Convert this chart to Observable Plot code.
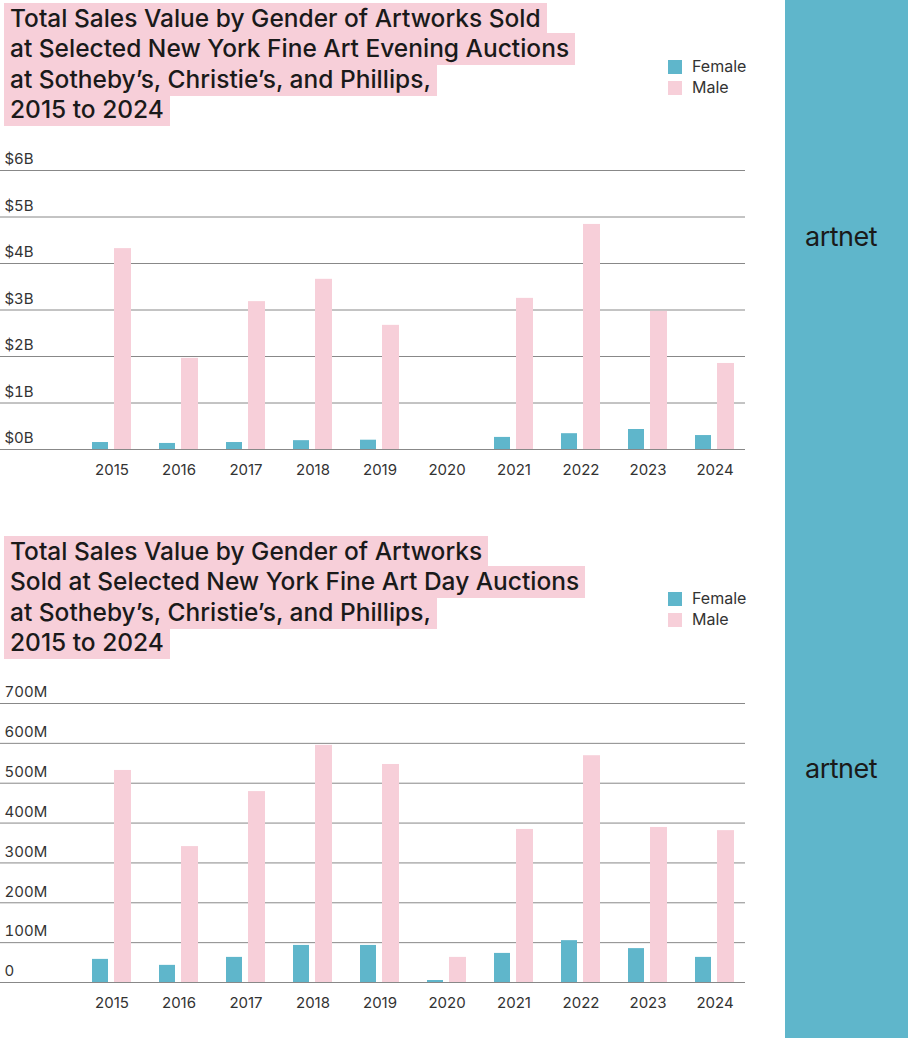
<!DOCTYPE html>
<html><head><meta charset="utf-8">
<script src="https://cdn.jsdelivr.net/npm/d3@7"></script>
<script src="https://cdn.jsdelivr.net/npm/@observablehq/plot@0.6"></script>
<style>
body{margin:0;width:908px;height:1038px;position:relative;background:#fff;font-family:Inter,"Liberation Sans",sans-serif;overflow:hidden}
.side{position:absolute;left:785px;top:0;width:123px;height:1038px;background:#5fb6cb}
.brand{position:absolute;left:805px;font-size:27px;color:#1a1a1a;letter-spacing:-0.5px}
.title{position:absolute;left:4px;font-size:24.5px;font-weight:500;line-height:30.3px;color:#1a1a1a;width:680px}
.title span{background:#f7cfd9;padding:0 6px 2px 6px;box-decoration-break:clone;-webkit-box-decoration-break:clone}
.legend{position:absolute;left:668px;font-size:16px;color:#333;line-height:21px}
.legend div{display:flex;align-items:center}
.legend i{display:inline-block;width:14px;height:14px;margin-right:10px}
.chart{position:absolute;left:0}
</style></head><body>
<div class="side"></div>
<div class="brand" style="top:220px">artnet</div>
<div class="brand" style="top:752px">artnet</div>
<div class="title" style="top:3px"><span>Total Sales Value by Gender of Artworks Sold<br>at Selected New York Fine Art Evening Auctions<br>at Sotheby’s, Christie’s, and Phillips,<br>2015 to 2024</span></div>
<div class="title" style="top:536px"><span>Total Sales Value by Gender of Artworks<br>Sold at Selected New York Fine Art Day Auctions<br>at Sotheby’s, Christie’s, and Phillips,<br>2015 to 2024</span></div>
<div class="legend" style="top:56px"><div><i style="background:#5fb6cb"></i>Female</div><div><i style="background:#f7cfd9"></i>Male</div></div>
<div class="legend" style="top:588px"><div><i style="background:#5fb6cb"></i>Female</div><div><i style="background:#f7cfd9"></i>Male</div></div>
<div class="chart" id="c1" style="top:140px"></div>
<div class="chart" id="c2" style="top:675px"></div>
<script>
const years = ["2015","2016","2017","2018","2019","2020","2021","2022","2023","2024"];
const eveningFemale = [0.15,0.13,0.15,0.19,0.20,0,0.26,0.34,0.43,0.30];
const eveningMale = [4.32,1.96,3.18,3.66,2.67,0,3.25,4.84,2.97,1.85];
const dayFemale = [58,43,63,93,93,5,73,105,85,63];
const dayMale = [532,341,479,595,547,63,384,569,389,381];
const eveningTicks = [0,1,2,3,4,5,6];
const eveningTickLabels = ["$0B","$1B","$2B","$3B","$4B","$5B","$6B"];
const dayTicks = [0,100,200,300,400,500,600,700];
const dayTickLabels = ["0","100M","200M","300M","400M","500M","600M","700M"];

function chart(female, male, ticks, labels, mt, mb) {
  const fd = years.map((y,i)=>({year:y, v:female[i]}));
  const md = years.map((y,i)=>({year:y, v:male[i]}));
  return Plot.plot({
    width:785, height:350, marginLeft:0, marginRight:40, marginTop:mt, marginBottom:mb,
    style:{fontFamily:"Inter, 'Liberation Sans', sans-serif", fontSize:"15px", color:"#333"},
    x:{domain:years, range:[74,752], padding:0, label:null},
    y:{domain:[0, ticks[ticks.length-1]], label:null},
    marks:[
      Plot.gridY({ticks, stroke:"#555", strokeOpacity:0.7}),
      Plot.axisY({ticks, tickFormat:(d,i)=>labels[ticks.indexOf(d)], tickSize:0, tickPadding:0, textAnchor:"start", dx:4, dy:-11, label:null, fill:"#333"}),
      Plot.axisX({tickSize:0, tickPadding:15, label:null, fill:"#333"}),
      Plot.barY(fd, {x:"year", y:"v", fill:"#5fb6cb", insetLeft:14, insetRight:37}),
      Plot.barY(md, {x:"year", y:"v", fill:"#f7cfd9", insetLeft:36, insetRight:14})
    ]
  });
}
document.getElementById("c1").append(chart(eveningFemale, eveningMale, eveningTicks, eveningTickLabels, 30, 41));
document.getElementById("c2").append(chart(dayFemale, dayMale, dayTicks, dayTickLabels, 28, 43));
</script>
</body></html>
